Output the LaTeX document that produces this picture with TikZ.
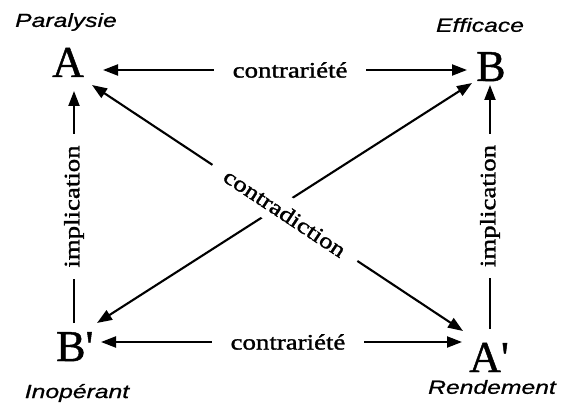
\documentclass[tikz,border=0pt]{standalone}
\usepackage{fontspec}
\setmainfont{Liberation Serif}
\newfontfamily\wideserif[FakeStretch=1.22,FakeBold=1.4]{Liberation Serif}
\newfontfamily\bigserif[FakeBold=1]{Liberation Serif}
\newfontfamily\widesans[FakeStretch=1.3,FakeBold=0.8]{Liberation Sans}
\usetikzlibrary{arrows.meta}
\begin{document}
\begin{tikzpicture}[x=1pt,y=-1pt,
  conn/.style={line width=2.1pt},
  both/.style={conn,{Triangle[length=15pt,width=11pt]}-{Triangle[length=15pt,width=11pt]}},
  up/.style={conn,-{Triangle[length=15pt,width=11pt]}},
  letter/.style={font=\bigserif\fontsize{44}{44}\selectfont, inner sep=0pt, anchor=base west},
  term/.style={font=\widesans\itshape\fontsize{19}{19}\selectfont, inner sep=0pt},
  lab/.style={font=\wideserif\fontsize{22}{22}\selectfont, fill=white, inner ysep=3pt}]
\useasboundingbox (0,0) rectangle (564,406);

% letters
\node[letter] (A)  at (52,77)  {A};
\node[letter] (B)  at (476,81) {B};
\node[letter] (Bp) at (56,361) {B\textquotesingle};
\node[letter] (Ap) at (469,372) {A\textquotesingle};

% terms
\node[term] (para) at (66,22)  {Paralysie};
\node[term] (effi) at (480,25) {Efficace};
\node[term] (inop) at (77,393) {Inopérant};
\node[term] (rend) at (492,387) {Rendement};

% connector ends
\coordinate (A-e)  at (103,70);
\coordinate (B-w)  at (467,70);
\coordinate (Bp-e) at (101,342);
\coordinate (Ap-w) at (462,342);
\coordinate (A-s)  at (74,91);
\coordinate (Bp-n) at (74,323);
\coordinate (B-s)  at (490,85);
\coordinate (Ap-n) at (490,329);
\coordinate (A-se)  at (92,85);
\coordinate (Ap-nw) at (463,331);
\coordinate (Bp-ne) at (97,323);
\coordinate (B-sw)  at (472,83);

% contrariete
\draw[both] (A-e) -- node[lab, pos=0.514, inner xsep=19pt] {contrariété} (B-w);
\draw[both] (Bp-e) -- node[lab, pos=0.518, inner xsep=19pt] {contrariété} (Ap-w);

% implication
\draw[up] (Bp-n) -- node[lab, pos=0.502, rotate=90, inner xsep=11pt] {implication} (A-s);
\draw[up] (Ap-n) -- node[lab, pos=0.504, rotate=90, inner xsep=11pt] {implication} (B-s);

% contradiction
\draw[both] (Bp-ne) -- (B-sw);
\draw[both] (A-se) -- node[lab, pos=0.52, rotate=-33.5, inner xsep=16pt, inner ysep=9pt] {contradiction} (Ap-nw);
\end{tikzpicture}
\end{document}
